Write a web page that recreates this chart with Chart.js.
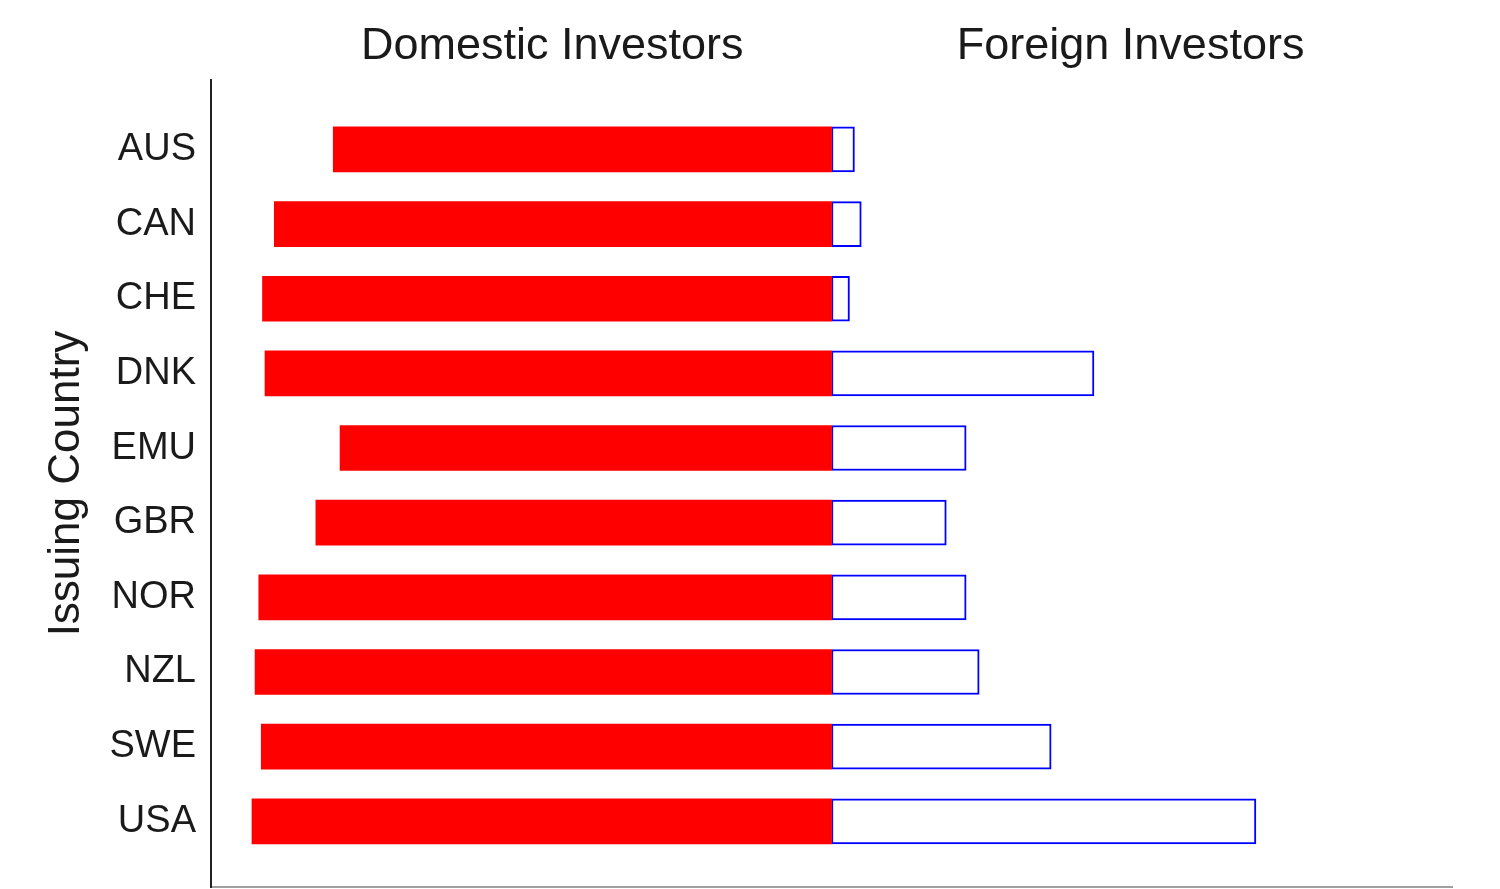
<!DOCTYPE html>
<html>
<head>
<meta charset="utf-8">
<script src="https://cdn.jsdelivr.net/npm/chart.js@4/dist/chart.umd.min.js"></script>
<style>
  html, body { margin: 0; padding: 0; background: #fff; }
  #wrap { width: 1500px; height: 889px; }
</style>
</head>
<body>
<div id="wrap"><canvas id="investors-chart"></canvas></div>
<script>
const countries = ['AUS', 'CAN', 'CHE', 'DNK', 'EMU', 'GBR', 'NOR', 'NZL', 'SWE', 'USA']
// domestic holdings drawn to the left of zero
const domestic = [-80.3, -89.8, -91.7, -91.3, -79.2, -83.1, -92.3, -92.9, -91.9, -93.4]
const foreign = [3.7, 4.8, 2.9, 42.3, 21.7, 18.5, 21.7, 23.8, 35.4, 68.4]

const headerLabels = ['Domestic Investors', 'Foreign Investors']
const headerTicks = [-45, 48.2]

const FONT = '"Liberation Sans", Arial, sans-serif'
const TEXT = '#1a1a1a'

function rows(values) {
    return values.map((v, i) => ({ x: v, y: i }))
}

const config = {
    type: 'bar',
    data: {
        datasets: [
            {
                label: 'Domestic',
                data: rows(domestic),
                backgroundColor: '#ff0000',
                borderWidth: 0,
                barThickness: 45,
                xAxisID: 'x',
            },
            {
                label: 'Foreign',
                data: rows(foreign),
                backgroundColor: '#ffffff',
                borderColor: '#0000ff',
                borderWidth: 2,
                borderSkipped: false,
                barThickness: 45,
                xAxisID: 'x',
            }
        ]
    },
    options: {
        indexAxis: 'y',
        responsive: true,
        maintainAspectRatio: false,
        animation: false,
        layout: { padding: { left: 0, right: 48, top: 0, bottom: 0 } },
        scales: {
            x: {
                type: 'linear',
                position: 'bottom',
                stacked: true,
                min: -100,
                max: 100,
                grid: { display: false },
                ticks: { display: false },
                border: { display: true, color: '#a0a0a0', width: 2 },
                afterFit: function (scale) { scale.height = 2 },
            },
            x2: {
                type: 'linear',
                position: 'top',
                min: -100,
                max: 100,
                grid: { display: false, drawTicks: false },
                border: { display: false },
                afterBuildTicks: function (scale) {
                    scale.ticks = headerTicks.map(v => ({ value: v }))
                },
                ticks: {
                    font: { family: FONT, size: 45 },
                    color: TEXT,
                    padding: 6,
                    autoSkip: false,
                    maxRotation: 0,
                    callback: function (value, index) {
                        return headerLabels[index]
                    }
                },
                afterFit: function (scale) {
                    scale.height = 80
                    scale.paddingLeft = 0
                    scale.paddingRight = 0
                },
            },
            y: {
                type: 'linear',
                stacked: true,
                reverse: true,
                offset: false,
                min: -0.93,
                max: 9.88,
                grid: { display: false, drawTicks: false },
                border: { display: true, color: '#222222', width: 2 },
                afterBuildTicks: function (scale) {
                    scale.ticks = countries.map((c, i) => ({ value: i }))
                },
                ticks: {
                    font: { family: FONT, size: 38 },
                    color: TEXT,
                    padding: 15,
                    autoSkip: false,
                    callback: function (value) {
                        return countries[value]
                    }
                },
                title: {
                    display: true,
                    text: 'Issuing Country',
                    font: { family: FONT, size: 44 },
                    color: TEXT,
                    padding: { top: 40, bottom: 0 },
                },
                afterFit: function (scale) {
                    scale.width = 211
                    scale.paddingTop = 0
                    scale.paddingBottom = 0
                },
            }
        },
        plugins: {
            legend: { display: false },
            tooltip: { enabled: false },
        }
    }
}

new Chart(document.getElementById('investors-chart').getContext('2d'), config)
</script>
</body>
</html>
